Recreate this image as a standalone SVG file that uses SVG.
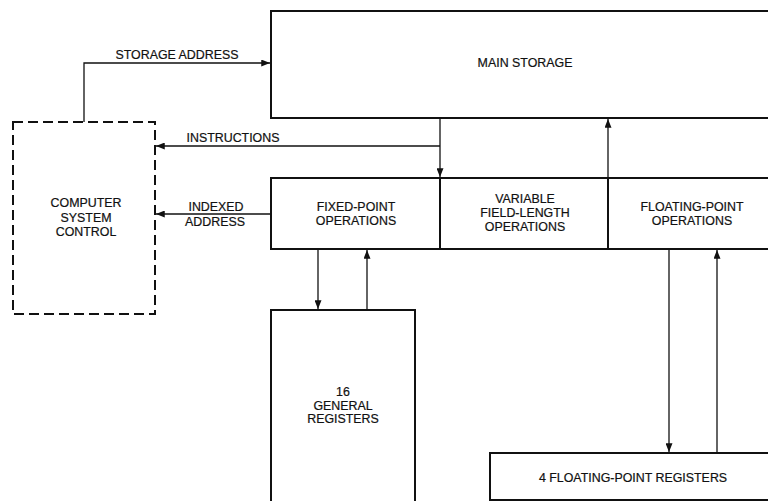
<svg xmlns="http://www.w3.org/2000/svg" width="768" height="501" viewBox="0 0 768 501">
<style>
.box{fill:#fff;stroke:#111;stroke-width:2}
.dash{fill:#fff;stroke:#111;stroke-width:2;stroke-dasharray:10 5}
.ln{fill:none;stroke:#111;stroke-width:1.3}
text{font-family:"Liberation Sans",Arial,sans-serif;font-size:12.4px;fill:#111;text-anchor:middle;stroke:#111;stroke-width:0.2}
</style>
<defs>
<marker id="ah" viewBox="0 0 10 8" refX="10" refY="4" markerWidth="9" markerHeight="7" markerUnits="userSpaceOnUse" orient="auto">
<path d="M0,0 L10,4 L0,8 Z" fill="#111"/>
</marker>
</defs>
<rect width="768" height="501" fill="#fff"/>
<g id="main-storage">
<rect class="box" x="271" y="11" width="520" height="107"/>
<text x="525" y="67">MAIN STORAGE</text>
</g>
<g id="computer-system-control">
<rect class="dash" x="13" y="122" width="142" height="192"/>
<text x="86" y="207">COMPUTER</text>
<text x="86" y="222">SYSTEM</text>
<text x="86" y="236">CONTROL</text>
</g>
<g id="fixed-point-operations">
<rect class="box" x="271" y="178" width="169" height="71"/>
<text x="356" y="211">FIXED-POINT</text>
<text x="356" y="225">OPERATIONS</text>
</g>
<g id="variable-field-length-operations">
<rect class="box" x="440" y="178" width="168" height="71"/>
<text x="525" y="203">VARIABLE</text>
<text x="525" y="217">FIELD-LENGTH</text>
<text x="525" y="231">OPERATIONS</text>
</g>
<g id="floating-point-operations">
<rect class="box" x="608" y="178" width="180" height="71"/>
<text x="692" y="211">FLOATING-POINT</text>
<text x="692" y="225">OPERATIONS</text>
</g>
<g id="general-registers">
<rect class="box" x="271" y="310" width="144" height="200"/>
<text x="343" y="396">16</text>
<text x="343" y="410">GENERAL</text>
<text x="343" y="423">REGISTERS</text>
</g>
<g id="floating-point-registers">
<rect class="box" x="490" y="453" width="300" height="47"/>
<text x="633" y="482">4 FLOATING-POINT REGISTERS</text>
</g>
<g id="connectors">
<path class="ln" d="M84,122 V63 H270" marker-end="url(#ah)"/>
<text x="177" y="59">STORAGE ADDRESS</text>
<path class="ln" d="M440,146 H156" marker-end="url(#ah)"/>
<text x="233" y="142">INSTRUCTIONS</text>
<path class="ln" d="M440,118 V177" marker-end="url(#ah)"/>
<path class="ln" d="M608,178 V119" marker-end="url(#ah)"/>
<path class="ln" d="M271,214 H156" marker-end="url(#ah)"/>
<text x="216" y="211">INDEXED</text>
<text x="215" y="226">ADDRESS</text>
<path class="ln" d="M318,249 V309" marker-end="url(#ah)"/>
<path class="ln" d="M367,310 V250" marker-end="url(#ah)"/>
<path class="ln" d="M669,249 V452" marker-end="url(#ah)"/>
<path class="ln" d="M717,453 V250" marker-end="url(#ah)"/>
</g>
</svg>
